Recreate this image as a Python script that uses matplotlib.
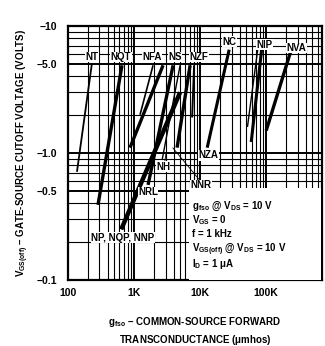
import matplotlib
matplotlib.use("Agg")
import matplotlib.pyplot as plt
from matplotlib.ticker import LogLocator, NullFormatter, FixedLocator, FixedFormatter

plt.rcParams['font.family'] = ['Liberation Sans', 'DejaVu Sans']
plt.rcParams['font.weight'] = 'bold'
plt.rcParams['mathtext.fontset'] = 'custom'
plt.rcParams['mathtext.bf'] = 'Liberation Sans:bold'
plt.rcParams['mathtext.rm'] = 'Liberation Sans:bold'
plt.rcParams['mathtext.it'] = 'Liberation Sans:bold:italic'
plt.rcParams['mathtext.default'] = 'bf'

# device curves: gfs (umhos) end points, VGS(off) (volts) end points
nt_g, nt_v = [137, 231], [-0.71, -5.1]
nqt_g, nqt_v = [285, 658], [-0.39, -4.9]
nfa_g, nfa_v = [870, 2750], [-1.1, -4.9]
nfa2_g, nfa2_v = [1233, 1940], [-2.0, -4.9]
np_g, np_v = [640, 4980], [-0.25, -3.0]
nrl_g, nrl_v = [1630, 3900], [-0.56, -4.9]
nh_g, nh_v = [2660, 4980], [-0.88, -4.9]
nzf_g, nzf_v = [4480, 7050], [-1.1, -4.9]
nzf2_g, nzf2_v = [7570, 8110], [-1.9, -4.9]
nc_g, nc_v = [12800, 27500], [-1.1, -6.5]
nip_g, nip_v = [59300, 86900], [-1.22, -7.1]
nip2_g, nip2_v = [52000, 76000], [-1.6, -7.1]
nva_g, nva_v = [100000, 239000], [-1.5, -6.5]

curves = [
    (nt_g, nt_v, 1.3),
    (nqt_g, nqt_v, 2.4),
    (nfa_g, nfa_v, 2.4),
    (nfa2_g, nfa2_v, 1.2),
    (np_g, np_v, 3.2),
    (nrl_g, nrl_v, 2.4),
    (nh_g, nh_v, 1.0),
    (nzf_g, nzf_v, 2.4),
    (nzf2_g, nzf2_v, 1.4),
    (nc_g, nc_v, 2.2),
    (nip_g, nip_v, 2.2),
    (nip2_g, nip2_v, 1.0),
    (nva_g, nva_v, 2.4),
]

# curve labels (text, gfs, volts)
top_labels = [("NT", 231, -5.7), ("NQT", 635, -5.7), ("NFA", 1874, -5.7),
              ("NS", 4180, -5.7), ("NZF", 9660, -5.7), ("NC", 27500, -7.5),
              ("NIP", 93000, -7.1), ("NVA", 285000, -6.7)]
low_labels = [("NZA", 13500, -0.96), ("NH", 2750, -0.78), ("NNR", 10300, -0.56),
              ("NRL", 1630, -0.49), ("NP, NQP, NNP", 680, -0.215)]

yticks = [-10, -5.0, -1.0, -0.5, -0.1]
ytick_labels = ["\u221210", "\u22125.0", "\u22121.0", "\u22120.5", "\u22120.1"]
xticks = [100, 1000, 10000, 100000]
xtick_labels = ["100", "1K", "10K", "100K"]

fig = plt.figure(figsize=(3.25, 3.46), dpi=100)
ax = fig.add_axes([0.209, 0.191, 0.782, 0.734])
ax.set_xscale('log')
ax.set_yscale('log')
ax.set_xlim(100, 7e5)
ax.set_ylim(0.1, 10)

ax.grid(True, which='major', color='black', lw=1.4)
ax.grid(True, which='minor', color='black', lw=0.8)
ax.xaxis.set_minor_locator(LogLocator(base=10, subs=range(2, 10)))
ax.yaxis.set_minor_locator(LogLocator(base=10, subs=range(2, 10)))
ax.xaxis.set_minor_formatter(NullFormatter())
ax.yaxis.set_minor_formatter(NullFormatter())
ax.yaxis.set_major_locator(FixedLocator([-v for v in yticks]))
ax.yaxis.set_major_formatter(FixedFormatter(ytick_labels))
ax.xaxis.set_major_locator(FixedLocator(xticks))
ax.xaxis.set_major_formatter(FixedFormatter(xtick_labels))
ax.tick_params(which='both', length=0, labelsize=7.5)
ax.tick_params(axis='y', pad=8)
ax.tick_params(axis='x', pad=6)
for s in ax.spines.values():
    s.set_linewidth(1.6)

for g, v, lw in curves:
    ax.plot(g, [-x for x in v], color='black', lw=lw, solid_capstyle='butt', zorder=3)

# leader lines
ax.plot([3870, 9600], [1.095, 0.62], color='black', lw=0.6, zorder=3)
ax.plot([2900, 3050], [0.83, 1.0], color='black', lw=0.6, zorder=3)

for t, g, v in top_labels + low_labels:
    ax.text(g, -v, t, fontsize=7, fontweight='bold', ha='center', va='center',
            bbox=dict(facecolor='white', edgecolor='none', pad=0.3), zorder=4)

# condition box
ax.add_patch(plt.Rectangle((0.475, 0.0), 0.52, 0.36, transform=ax.transAxes,
                           facecolor='white', edgecolor='none', zorder=4))
cond = [r"g$_{fso}$ @ V$_{DS}$ = 10 V", r"V$_{GS}$ = 0", "f = 1 kHz",
        r"V$_{GS(off)}$ @ V$_{DS}$ = 10 V", r"I$_D$ = 1 $\mu$A"]
cond_y = [0.29, 0.235, 0.18, 0.117, 0.062]
for t, yy in zip(cond, cond_y):
    ax.text(0.49, yy, t, transform=ax.transAxes, fontsize=7, fontweight='bold',
            ha='left', va='center', zorder=5)

ax.set_ylabel("V$_{GS(off)}$ \u2013 GATE-SOURCE CUTOFF VOLTAGE (VOLTS)",
              fontsize=7, fontweight='bold', labelpad=4)
ax.set_xlabel("g$_{fso}$ \u2013 COMMON-SOURCE FORWARD\nTRANSCONDUCTANCE ($\\mu$mhos)",
              fontsize=7, fontweight='bold', labelpad=12, linespacing=1.4)

fig.savefig("out.png", dpi=100)
